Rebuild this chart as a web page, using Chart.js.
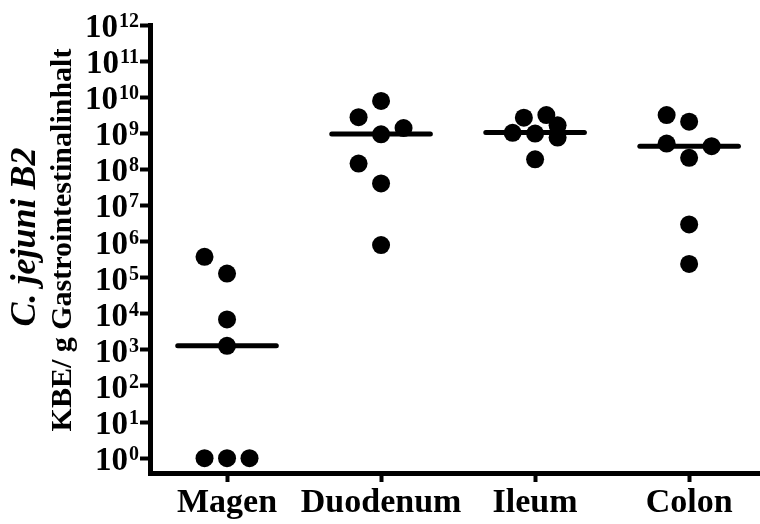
<!DOCTYPE html>
<html>
<head>
<meta charset="utf-8">
<script src="https://cdn.jsdelivr.net/npm/chart.js@4"></script>
<style>
  html, body { margin: 0; padding: 0; background: #fff; }
  #wrap { width: 760px; height: 524px; }
</style>
</head>
<body>
<div id="wrap"><canvas id="grafico" width="760" height="524"></canvas></div>
<script>
// Kategorien und Messwerte (KBE/g)
var categories = ['Magen', 'Duodenum', 'Ileum', 'Colon'];

var magen    = [3.8e5, 1.3e5, 7e3, 1.3e3, 1, 1, 1];
var duodenum = [7.9e9, 2.8e9, 1.4e9, 9.4e8, 1.45e8, 4.1e7, 8e5];
var ileum    = [2.7e9, 3.2e9, 1.67e9, 1.03e9, 9.8e8, 7.6e8, 1.9e8];
var colon    = [3.2e9, 2.1e9, 5.2e8, 4.4e8, 2.1e8, 3e6, 2.4e5];

// Mediane (Linien)
var medians = [1.3e3, 9.5e8, 1.05e9, 4.4e8];

// seitlicher Versatz der Punkte (in Punktbreiten)
var jitterMagen    = [-1, 0, 0, 0, -1, 0, 1];
var jitterDuodenum = [0, -1, 1, 0, -1, 0, 0];
var jitterIleum    = [-0.5, 0.5, 1, -1, 0, 1, 0];
var jitterColon    = [-1, 0, -1, 1, 0, 0, 0];

// Exponenten der Achsenbeschriftung
var tickExps = [0, 1, 2, 3, 4, 5, 6, 7, 8, 9, 10, 11, 12];

var series = [magen, duodenum, ileum, colon];
var jitters = [jitterMagen, jitterDuodenum, jitterIleum, jitterColon];
var step = 0.146;
var halfMedian = 0.32;

var datasets = [];
series.forEach(function(vals, i) {
    datasets.push({
        type: 'line',
        data: [{x: i - halfMedian, y: medians[i]}, {x: i + halfMedian, y: medians[i]}],
        borderColor: '#000',
        borderWidth: 5,
        borderCapStyle: 'round',
        pointRadius: 0,
        showLine: true
    });
    datasets.push({
        type: 'scatter',
        data: vals.map(function(v, k) { return {x: i + jitters[i][k] * step, y: v}; }),
        backgroundColor: '#000',
        borderWidth: 0,
        pointRadius: 9,
        pointHoverRadius: 9
    });
});

var serif = '"Liberation Serif", "Times New Roman", serif';

// Beschriftung 10^n und Achsentitel
var labelPlugin = {
    id: 'labels',
    afterDraw: function(chart) {
        var ctx = chart.ctx;
        var y = chart.scales.y;
        ctx.save();
        ctx.fillStyle = '#000';
        ctx.textBaseline = 'alphabetic';
        ctx.textAlign = 'right';
        tickExps.forEach(function(e) {
            var py = y.getPixelForValue(Math.pow(10, e));
            ctx.font = 'bold 20px ' + serif;
            var sup = String(e);
            var w = ctx.measureText(sup).width;
            ctx.fillText(sup, 139, py + 2);
            ctx.font = 'bold 33px ' + serif;
            ctx.fillText('10', 139 - w - 1, py + 12);
        });
        ctx.restore();

        ctx.save();
        ctx.fillStyle = '#000';
        ctx.textAlign = 'center';
        ctx.textBaseline = 'middle';
        ctx.translate(26, 237);
        ctx.rotate(-Math.PI / 2);
        ctx.font = 'italic bold 36px ' + serif;
        ctx.fillText('C. jejuni B2', 0, 0);
        ctx.restore();

        ctx.save();
        ctx.fillStyle = '#000';
        ctx.textAlign = 'center';
        ctx.textBaseline = 'middle';
        ctx.translate(63, 240);
        ctx.rotate(-Math.PI / 2);
        ctx.font = 'bold 30px ' + serif;
        ctx.fillText('KBE/ g Gastrointestinalinhalt', 0, 0);
        ctx.restore();
    }
};

var context = document.getElementById('grafico').getContext('2d');
var chart = new Chart(context, {
    data: { datasets: datasets },
    options: {
        responsive: false,
        animation: false,
        layout: { autoPadding: false, padding: { top: 25, left: 0, right: 0, bottom: 0 } },
        plugins: { legend: { display: false }, tooltip: { enabled: false } },
        scales: {
            x: {
                type: 'linear',
                min: -0.5,
                max: 3.46,
                afterBuildTicks: function(scale) {
                    scale.ticks = categories.map(function(c, i) { return {value: i}; });
                },
                afterFit: function(scale) { scale.height = 51; },
                ticks: {
                    color: '#000',
                    padding: 1,
                    font: { family: serif, size: 34, weight: 'bold' },
                    callback: function(v) { return categories[v]; }
                },
                grid: { drawOnChartArea: false, drawTicks: true, tickLength: 9, tickWidth: 4, color: '#000' },
                border: { display: true, color: '#000', width: 5 }
            },
            y: {
                type: 'logarithmic',
                min: Math.pow(10, -0.41),
                max: 1e12,
                afterBuildTicks: function(scale) {
                    scale.ticks = tickExps.map(function(e) { return {value: Math.pow(10, e)}; });
                },
                afterFit: function(scale) { scale.width = 150; },
                ticks: { display: false },
                grid: { drawOnChartArea: false, drawTicks: true, tickLength: 10, tickWidth: 4, color: '#000' },
                border: { display: true, color: '#000', width: 5 }
            }
        }
    },
    plugins: [labelPlugin]
});
</script>
</body>
</html>
